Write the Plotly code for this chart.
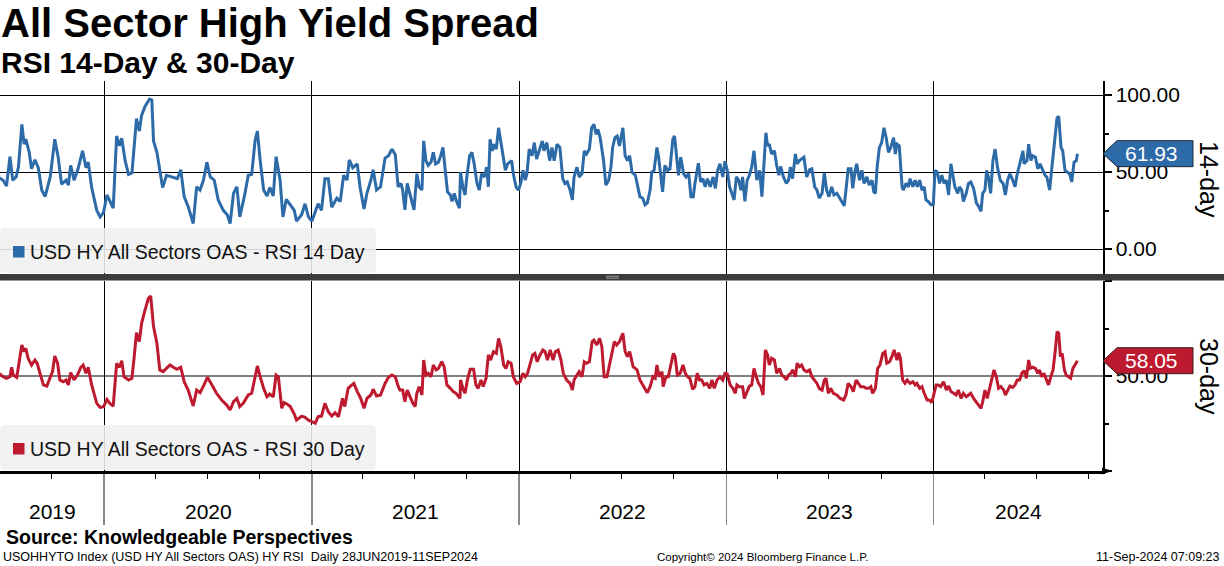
import pandas as pd
import plotly.graph_objects as go

# ---------------- data ----------------
START = "2019-06-28"          # first observation
END = "2024-09-11"            # last observation

# RSI 14-day: days since START, value
rsi14_days = [0, 9, 15, 21, 26, 32, 36, 42, 46, 49, 55, 59, 65, 71, 77, 83, 92, 100, 106, 112, 120, 124, 128, 134, 141, 149, 155, 159, 165, 174, 180, 186, 192, 197, 203, 209, 214, 218, 224, 230, 236, 241, 244, 249, 253, 259, 267, 271, 274, 280, 285, 290, 297, 309, 316, 322, 328, 335, 344, 350, 356, 362, 368, 374, 381, 388, 397, 404, 409, 415, 421, 426, 434, 441, 447, 453, 457, 462, 468, 474, 479, 485, 490, 497, 502, 508, 515, 522, 526, 535, 541, 547, 553, 559, 564, 570, 576, 582, 588, 597, 603, 609, 615, 619, 625, 633, 638, 645, 650, 657, 661, 667, 674, 682, 688, 694, 700, 705,
              710, 713, 717, 721, 725, 729, 733, 738, 742, 747, 750, 754, 758, 763, 767, 771, 776, 780, 784, 788, 792, 797, 800, 804, 807, 813, 815, 819, 823, 826, 831, 835, 839, 844, 848, 852, 857, 861, 864, 867, 871, 874, 878, 882, 886, 891, 894, 898, 901, 905, 908, 913, 917, 921, 925, 929, 932, 936, 941, 945, 949, 954, 959, 962, 967, 972, 976, 980, 985, 990, 995, 999, 1003, 1008, 1012, 1015, 1020, 1024, 1029, 1033, 1037, 1042, 1046, 1050, 1054, 1057, 1061, 1067, 1071, 1076, 1080, 1083, 1087, 1091, 1095, 1101, 1105, 1109, 1113, 1117, 1123,
              1131, 1136, 1140, 1144, 1149, 1152, 1156, 1161, 1164, 1168, 1171, 1175, 1180, 1184, 1189, 1192, 1196, 1199, 1203, 1208, 1212, 1217, 1221, 1225, 1228, 1234, 1238, 1242, 1246, 1250, 1255, 1260, 1264, 1268, 1272, 1277, 1281, 1285, 1289, 1293, 1297, 1301, 1305, 1309, 1312, 1316, 1320, 1324, 1328, 1332, 1337, 1342, 1346, 1350, 1353, 1356, 1359, 1363, 1368, 1372, 1376, 1379, 1384, 1389, 1393, 1396, 1400, 1405, 1408, 1412, 1416, 1420, 1425, 1430, 1434, 1439, 1443, 1447, 1452, 1456, 1460, 1464, 1469, 1473, 1478, 1483, 1487, 1491, 1496, 1498, 1503, 1506, 1510, 1513, 1518, 1522, 1526, 1531, 1535, 1540, 1543, 1546, 1549, 1553,
              1557, 1561, 1565, 1569, 1573, 1578, 1581, 1584, 1588, 1593, 1595, 1600, 1604, 1607, 1612, 1616, 1620, 1624, 1628, 1632, 1635, 1639, 1644, 1648, 1651, 1655, 1659, 1663, 1667, 1671, 1675, 1679, 1682, 1686, 1691, 1694, 1698, 1701, 1706, 1710, 1714, 1719, 1724, 1728, 1732, 1735, 1739, 1742, 1745, 1749, 1753, 1757, 1761, 1766, 1771, 1775, 1779, 1783, 1788, 1792, 1796, 1801, 1806, 1808, 1813, 1816, 1820, 1823, 1828, 1832, 1836, 1841, 1845, 1848, 1853, 1857, 1861, 1866, 1869, 1873, 1876, 1880, 1884, 1888, 1892, 1896, 1900, 1902]
rsi14_vals = [46.8, 44.7, 40.9, 60.0, 44.7, 46.8, 53.2, 80.9, 68.1, 71.3, 62.8, 52.1, 57.9, 52.8, 38.3, 34.0, 46.8, 71.3, 59.6, 42.1, 44.7, 41.5, 54.3, 44.7, 52.1, 63.8, 52.8, 56.4, 40.0, 25.1, 20.9, 23.8, 35.1, 31.5, 26.6, 73.4, 67.0, 71.9, 57.4, 48.5, 49.4, 71.3, 84.7, 76.6, 86.8, 92.6, 97.4, 96.8, 70.2, 62.8, 51.1, 40.0, 47.9, 46.8, 45.7, 51.5, 34.0, 27.7, 16.6, 40.4, 38.3, 44.7, 56.4, 46.8, 44.7, 31.9, 25.1, 22.3, 16.6, 36.2, 40.4, 20.9, 34.0, 47.9, 48.5, 70.6, 76.6, 57.4, 38.3, 34.5, 40.0, 34.5, 60.0, 44.7, 20.9, 32.3, 28.7, 25.1, 18.1, 22.3, 29.4, 20.9, 18.1, 23.8, 29.4, 25.1, 45.7, 45.7, 27.2, 33.0, 30.9, 47.9, 44.7, 57.9, 52.8, 55.3, 40.0, 26.0, 36.2, 44.7, 51.5, 38.3, 40.4, 59.1, 60.6, 64.9, 61.3, 40.4,
              42.6, 38.3, 25.5, 42.6, 36.2, 29.8, 25.5, 48.9, 40.4, 38.3, 70.2, 57.4, 54.3, 56.4, 62.8, 55.3, 56.4, 60.6, 66.0, 51.1, 37.2, 35.1, 30.9, 36.2, 31.9, 26.6, 50.0, 40.4, 35.1, 46.8, 60.6, 62.8, 55.3, 42.6, 38.3, 48.9, 46.8, 53.2, 40.4, 71.3, 63.8, 68.1, 64.9, 78.7, 69.1, 57.4, 51.1, 55.3, 56.4, 57.4, 48.9, 40.0, 38.3, 42.6, 51.1, 44.7, 48.9, 64.9, 60.6, 69.1, 58.5, 64.9, 70.2, 63.8, 69.1, 57.4, 66.0, 57.4, 68.1, 66.0, 45.7, 42.6, 43.6, 38.3, 31.9, 46.8, 53.2, 46.8, 48.9, 63.8, 61.7, 64.9, 78.7, 80.9, 74.5, 77.7, 72.3, 57.4, 41.5, 44.7, 53.2, 66.0, 72.3, 73.4, 67.0, 78.7, 60.6, 57.4, 60.6, 50.0, 47.9,
              34.0, 33.0, 28.7, 29.8, 38.3, 50.0, 51.1, 66.0, 59.6, 45.7, 37.2, 54.3, 51.1, 52.1, 71.3, 73.4, 59.6, 47.9, 59.6, 48.9, 46.8, 48.9, 34.0, 34.0, 42.6, 55.7, 43.6, 45.7, 40.4, 45.7, 40.4, 46.8, 39.4, 51.1, 55.3, 46.8, 57.0, 51.1, 40.4, 36.2, 31.9, 46.8, 44.7, 38.3, 46.8, 30.9, 44.7, 47.9, 53.2, 63.8, 44.7, 51.1, 34.0, 57.4, 75.5, 67.0, 68.1, 61.7, 63.8, 54.3, 47.9, 53.6, 46.8, 42.6, 44.7, 53.2, 45.7, 61.7, 55.3, 57.4, 58.5, 59.6, 46.8, 51.5, 52.1, 40.4, 38.3, 33.0, 36.2, 49.4, 38.3, 34.0, 40.4, 35.1, 36.2, 33.0, 30.9, 28.1, 44.7, 52.1, 52.1, 39.4, 50.0, 55.3, 44.7, 51.1, 42.6, 46.8, 41.5, 44.7, 37.2, 36.2, 53.2, 66.0,
              69.1, 78.7, 72.3, 62.8, 66.0, 72.3, 61.7, 68.1, 67.0, 40.4, 38.3, 42.6, 40.4, 45.7, 40.4, 44.7, 40.4, 44.7, 38.3, 40.4, 31.9, 30.9, 28.7, 28.7, 51.1, 50.0, 42.6, 47.9, 42.6, 44.7, 35.1, 55.3, 48.9, 40.4, 36.2, 40.4, 38.3, 30.9, 36.2, 42.6, 43.6, 39.4, 29.8, 27.7, 24.5, 36.2, 38.3, 51.1, 46.8, 36.2, 57.4, 64.9, 53.2, 44.7, 42.6, 35.1, 44.7, 48.9, 44.7, 40.4, 48.9, 56.4, 63.8, 55.3, 57.4, 68.1, 57.4, 60.6, 59.6, 52.1, 55.3, 51.1, 47.9, 46.8, 38.3, 53.2, 66.0, 85.1, 86.2, 66.0, 63.8, 51.1, 50.0, 48.9, 43.6, 56.4, 57.4, 61.93]

# RSI 30-day: days since START, value
rsi30_days = [0, 9, 15, 21, 24, 27, 33, 38, 42, 46, 49, 53, 59, 65, 69, 74, 80, 86, 92, 96, 100, 105, 109, 115, 120, 124, 128, 134, 140, 146, 150, 155, 159, 165, 174, 180, 186, 192, 197, 203, 209, 214, 218, 222, 230, 236, 240, 244, 249, 253, 259, 265, 269, 274, 280, 285, 291, 297, 303, 309, 315, 322, 328, 335, 344, 350, 356, 363, 369, 377, 385, 394, 403, 409, 415, 421, 426, 432, 441, 447, 453, 457, 462, 468, 474, 479, 485, 490, 494, 500, 504, 509, 515, 522, 526, 535, 541, 547, 553, 559, 564, 570, 576, 582, 588, 594, 600, 607, 611, 617, 621, 627, 633, 639, 645, 650, 657, 661, 667, 674, 682, 688, 694, 700, 705,
              708, 713, 717, 721, 726, 731, 735, 738, 742, 747, 750, 754, 758, 763, 767, 772, 776, 782, 786, 791, 797, 802, 807, 814, 815, 820, 823, 827, 832, 838, 842, 846, 851, 855, 860, 864, 868, 873, 878, 882, 886, 891, 895, 899, 904, 908, 914, 920, 925, 929, 933, 938, 942, 946, 950, 955, 960, 964, 968, 973, 978, 982, 987, 992, 996, 1002, 1008, 1012, 1015, 1020, 1024, 1029, 1033, 1037, 1042, 1047, 1050, 1055, 1060, 1064, 1068, 1073, 1077, 1082, 1086, 1090, 1095, 1101, 1105, 1109, 1113, 1119, 1126, 1131, 1136, 1140, 1144, 1149, 1154, 1158, 1161, 1165, 1170, 1172, 1177, 1181, 1186, 1190, 1193, 1197, 1202, 1207, 1211, 1215, 1219, 1224, 1228, 1232, 1236, 1240, 1244, 1249, 1254, 1258, 1262, 1267, 1272, 1277, 1281, 1285, 1290, 1295, 1299, 1302, 1306,
              1312, 1315, 1319, 1324, 1328, 1332, 1336, 1340, 1344, 1348, 1352, 1356, 1359, 1363, 1368, 1372, 1377, 1381, 1385, 1389, 1393, 1397, 1400, 1405, 1408, 1412, 1416, 1420, 1425, 1430, 1434, 1438, 1443, 1447, 1452, 1456, 1459, 1463, 1467, 1472, 1478, 1484, 1490, 1494, 1498, 1503, 1507, 1512, 1516, 1520, 1525, 1530, 1534, 1538, 1541, 1546, 1550, 1554, 1559, 1563, 1566, 1571, 1575, 1579, 1584, 1587, 1590, 1594, 1598, 1602, 1607, 1612, 1616, 1619, 1624, 1628, 1632, 1637, 1641, 1645, 1648, 1653, 1657, 1661, 1666, 1671, 1675, 1679, 1684, 1688, 1692, 1697, 1701, 1706, 1710, 1714, 1719, 1724, 1728, 1732, 1735, 1739, 1743, 1747, 1751, 1755, 1759, 1763, 1767, 1772, 1775, 1779, 1783, 1788, 1792, 1796, 1800, 1804, 1808, 1812, 1816, 1819, 1823, 1828, 1832, 1835, 1839, 1843, 1847, 1851, 1855, 1859, 1863, 1866, 1869, 1872, 1875, 1879, 1882, 1886, 1890, 1894, 1898, 1902]
rsi30_vals = [51.8, 49.6, 48.8, 49.6, 54.6, 50.5, 49.3, 58.4, 66.3, 62.8, 64.6, 59.3, 55.8, 58.4, 56.7, 51.4, 45.3, 44.7, 48.8, 52.3, 60.5, 56.7, 47.9, 47.0, 47.9, 45.3, 51.8, 47.9, 50.5, 54.6, 55.8, 51.4, 54.6, 45.3, 35.6, 33.5, 33.9, 37.7, 35.6, 34.2, 56.7, 54.6, 58.1, 49.6, 47.9, 48.8, 60.2, 72.8, 68.1, 77.7, 84.7, 90.9, 92.1, 76.0, 67.2, 53.2, 52.3, 54.0, 55.8, 54.6, 53.5, 54.6, 47.0, 42.6, 34.2, 42.6, 41.2, 45.3, 49.3, 45.3, 40.9, 37.4, 34.7, 32.1, 36.5, 38.2, 33.9, 35.6, 40.0, 40.9, 49.6, 55.3, 49.6, 43.5, 39.1, 40.5, 39.1, 50.5, 49.6, 33.0, 36.0, 35.3, 33.9, 30.0, 26.8, 28.9, 28.2, 26.8, 26.0, 25.1, 28.6, 28.9, 35.6, 31.2, 28.9, 30.7, 28.6, 38.2, 33.9, 43.5, 44.7, 46.1, 41.8, 38.2, 33.0, 38.2, 40.0, 43.0, 39.5, 40.0, 46.1, 49.3, 50.5, 49.6, 44.7,
              42.6, 42.6, 36.5, 42.6, 39.1, 35.6, 33.9, 40.9, 44.4, 40.0, 58.4, 50.5, 51.4, 49.6, 55.8, 53.2, 54.0, 57.5, 54.9, 45.3, 43.5, 41.8, 40.9, 38.2, 47.9, 42.6, 40.9, 47.9, 53.5, 53.5, 45.3, 43.5, 47.9, 44.4, 48.8, 61.1, 58.4, 62.8, 61.9, 69.8, 65.4, 55.8, 54.0, 57.5, 56.7, 49.6, 46.1, 47.0, 51.4, 49.6, 51.4, 57.5, 61.1, 61.9, 57.5, 61.1, 63.7, 62.8, 58.4, 63.7, 58.4, 62.8, 63.7, 58.4, 51.4, 47.9, 46.1, 42.6, 47.9, 50.5, 52.3, 49.6, 57.5, 56.7, 57.5, 68.1, 68.9, 66.3, 69.8, 65.4, 49.6, 49.6, 54.9, 61.1, 68.1, 66.3, 68.1, 72.5, 62.8, 60.2, 62.8, 54.9, 53.2, 47.9, 45.3, 42.6, 41.2, 44.4, 49.6, 48.8, 55.8, 49.6, 52.3, 44.4, 49.6, 49.6, 55.8, 61.9, 60.2, 50.5, 51.4, 55.8, 51.4, 49.6, 48.8, 43.0, 44.4, 51.4, 47.9, 47.9, 45.3, 46.1, 43.5, 47.9, 43.5, 47.9, 49.6, 47.9, 51.4, 51.1, 45.3, 43.5, 40.9, 45.3, 44.4,
              44.4, 38.2, 40.9, 44.7, 45.3, 54.0, 49.6, 46.1, 44.4, 40.0, 63.7, 61.1, 55.8, 59.3, 58.4, 51.4, 54.0, 50.5, 49.6, 47.9, 50.5, 51.4, 53.2, 49.6, 56.7, 54.9, 55.8, 53.2, 52.3, 53.2, 49.6, 47.9, 46.1, 43.5, 42.6, 47.9, 48.8, 40.9, 43.5, 40.9, 40.0, 38.2, 37.4, 40.0, 46.1, 44.4, 41.8, 47.9, 46.1, 44.4, 44.4, 43.5, 43.5, 44.4, 40.9, 43.5, 54.0, 55.8, 61.9, 62.8, 56.7, 57.5, 60.2, 63.7, 58.4, 62.3, 59.3, 47.9, 46.1, 47.9, 46.1, 47.0, 45.3, 46.1, 43.5, 44.4, 40.9, 37.4, 37.4, 36.0, 39.1, 45.3, 45.3, 44.4, 47.0, 42.6, 44.7, 41.8, 40.9, 40.0, 42.6, 38.2, 40.9, 39.1, 40.0, 40.9, 38.2, 36.0, 34.7, 33.0, 36.5, 42.6, 38.2, 43.5, 49.6, 53.2, 49.6, 43.5, 44.4, 42.6, 40.0, 42.6, 44.7, 44.0, 45.3, 47.9, 47.9, 51.4, 52.8, 48.8, 58.4, 54.0, 54.6, 54.0, 51.4, 53.2, 49.6, 51.4, 47.9, 45.3, 49.6, 53.2, 63.7, 73.3, 72.5, 60.2, 61.9, 53.2, 50.5, 49.6, 48.8, 54.0, 55.8, 58.05]

years = [2019, 2020, 2021, 2022, 2023, 2024]
top_ticks = [0, 50, 100]
top_tick_text = ["0.00", "50.00", "100.00"]
bot_ticks = [0, 50, 100]
bot_tick_text = ["", "50.00", ""]

BLUE = "#2c6aa8"
RED = "#be1a2f"
FONT = "Liberation Sans"

# ---------------- geometry helpers ----------------
W, H = 1224, 566
PW = 1103.0          # right edge of plot area (px)


def px(x):
    return x / PW


def py(y):
    return 1 - y / H


def rounded_rect(x0, y0, x1, y1, r=5):
    """Rounded rectangle path in paper coordinates, from pixel box (top-left origin)."""
    rx, ry = r / PW, r / H
    X0, X1, Yt, Yb = px(x0), px(x1), py(y0), py(y1)
    return (f"M{X0 + rx},{Yt} L{X1 - rx},{Yt} Q{X1},{Yt} {X1},{Yt - ry} "
            f"L{X1},{Yb + ry} Q{X1},{Yb} {X1 - rx},{Yb} L{X0 + rx},{Yb} "
            f"Q{X0},{Yb} {X0},{Yb + ry} L{X0},{Yt - ry} Q{X0},{Yt} {X0 + rx},{Yt} Z")


t0 = pd.Timestamp(START)
x14 = t0 + pd.to_timedelta(rsi14_days, unit="D")
x30 = t0 + pd.to_timedelta(rsi30_days, unit="D")
xr0 = pd.Timestamp("2019-07-01 12:00")
xr1 = pd.Timestamp("2024-10-26")

fig = go.Figure()
fig.add_trace(go.Scatter(x=x14, y=rsi14_vals, mode="lines", xaxis="x", yaxis="y",
                         line=dict(color=BLUE, width=3), showlegend=False, hoverinfo="skip"))
fig.add_trace(go.Scatter(x=x30, y=rsi30_vals, mode="lines", xaxis="x2", yaxis="y2",
                         line=dict(color=RED, width=3), showlegend=False, hoverinfo="skip"))

common_x = dict(range=[xr0, xr1], type="date", dtick="M12", tick0="2020-01-01",
                showgrid=True, gridcolor="black", gridwidth=1, zeroline=False,
                showticklabels=False, fixedrange=True)

fig.update_layout(
    width=W, height=H, autosize=False,
    margin=dict(l=0, r=W - PW, t=0, b=0, pad=0),
    paper_bgcolor="white", plot_bgcolor="white",
    font=dict(family=FONT, color="black"),
    xaxis=dict(domain=[0, 1], anchor="y", ticks="", showline=False, **common_x),
    xaxis2=dict(domain=[0, 1], anchor="y2", matches="x", showline=True, linecolor="black",
                linewidth=2.5, ticks="outside", ticklen=51, tickwidth=1.3, tickcolor="#8a8a8a",
                minor=dict(dtick="M3", tick0="2020-01-01", ticks="outside", ticklen=5,
                           tickwidth=1, tickcolor="black", showgrid=False),
                **common_x),
    yaxis=dict(domain=[py(274), py(81)], anchor="x", side="right", range=[-16.2, 109.1],
               tickvals=top_ticks, ticktext=top_tick_text, showgrid=True, gridcolor="black",
               gridwidth=1, zeroline=False, showline=True, linecolor="black", linewidth=1.5,
               ticks="outside", ticklen=7, tickwidth=2, tickcolor="black",
               tickfont=dict(size=21, family=FONT, color="black"),
               minor=dict(tickvals=[25, 75], ticks="outside", ticklen=4, tickcolor="black"),
               fixedrange=True),
    yaxis2=dict(domain=[py(471), py(281)], anchor="x2", side="right", range=[0, 100],
                tickvals=bot_ticks, ticktext=bot_tick_text, showgrid=False, zeroline=False,
                showline=True, linecolor="black", linewidth=1.5,
                ticks="outside", ticklen=7, tickwidth=2, tickcolor="black",
                tickfont=dict(size=21, family=FONT, color="black"),
                minor=dict(tickvals=[25, 75], ticks="outside", ticklen=4, tickcolor="black"),
                fixedrange=True),
)

shapes = []
# 50 line in bottom panel
shapes.append(dict(type="line", xref="paper", yref="y2", x0=0, x1=1, y0=50, y1=50,
                   line=dict(color="black", width=1), layer="below"))
# panel separator bar
shapes.append(dict(type="rect", xref="paper", yref="paper", x0=0, x1=W / PW,
                   y0=py(280.5), y1=py(274), fillcolor="#3b3b3b", line=dict(width=0), layer="above"))
for yy in (276.3, 278.2):
    shapes.append(dict(type="line", xref="paper", yref="paper", x0=px(606), x1=px(619),
                       y0=py(yy), y1=py(yy), line=dict(color="#9a9a9a", width=1), layer="above"))
# arrow at right end of the time axis
shapes.append(dict(type="path", xref="paper", yref="paper",
                   path=f"M{px(1102)},{py(467.5)} L{px(1112)},{py(471)} L{px(1102)},{py(474.5)} Z",
                   fillcolor="black", line=dict(width=0), layer="above"))
# legend boxes
for (ya, yb, col) in ((228, 273, BLUE), (425, 470, RED)):
    shapes.append(dict(type="path", xref="paper", yref="paper", path=rounded_rect(0, ya, 376, yb),
                       fillcolor="rgba(240,240,240,0.88)", line=dict(width=0), layer="above"))
    yc = (ya + yb) / 2 + 1
    shapes.append(dict(type="rect", xref="paper", yref="paper", x0=px(13), x1=px(24.5),
                       y0=py(yc + 6), y1=py(yc - 5.5), fillcolor=col,
                       line=dict(width=0), layer="above"))
# last-value tags
tag_path = "M0,0 L14,13 L90,13 L90,-13 L14,-13 Z"
shapes.append(dict(type="path", xref="paper", yref="y", xsizemode="pixel", ysizemode="pixel",
                   xanchor=1, yanchor=rsi14_vals[-1], path=tag_path, fillcolor=BLUE,
                   line=dict(color="#1d2a3a", width=1), layer="above"))
shapes.append(dict(type="path", xref="paper", yref="y2", xsizemode="pixel", ysizemode="pixel",
                   xanchor=1, yanchor=rsi30_vals[-1], path=tag_path, fillcolor=RED,
                   line=dict(color="#3a1a1a", width=1), layer="above"))

ann = []
# titles
ann.append(dict(text="<b>All Sector High Yield Spread</b>", x=px(-1), y=py(23), xref="paper", yref="paper",
                xanchor="left", yanchor="middle", showarrow=False, font=dict(size=40, family=FONT, color="black")))
ann.append(dict(text="<b>RSI 14-Day &amp; 30-Day</b>", x=px(-1), y=py(62), xref="paper", yref="paper",
                xanchor="left", yanchor="middle", showarrow=False, font=dict(size=30, family=FONT, color="black")))
# year labels centred in the visible part of each year
for yr in years:
    a = max(pd.Timestamp(f"{yr}-01-01"), xr0)
    b = min(pd.Timestamp(f"{yr + 1}-01-01"), xr1)
    mid = a + (b - a) / 2
    ann.append(dict(text=str(yr), x=mid, y=py(511), xref="x2", yref="paper", xanchor="center",
                    yanchor="middle", showarrow=False, font=dict(size=21, family=FONT, color="black")))
# legends
ann.append(dict(text="USD HY All Sectors OAS - RSI 14 Day", x=px(28), y=py(252), xref="paper", yref="paper",
                xanchor="left", yanchor="middle", showarrow=False, font=dict(size=19.5, family=FONT, color="#111111")))
ann.append(dict(text="USD HY All Sectors OAS - RSI 30 Day", x=px(28), y=py(449), xref="paper", yref="paper",
                xanchor="left", yanchor="middle", showarrow=False, font=dict(size=19.5, family=FONT, color="#111111")))
# tag texts
ann.append(dict(text=f"{rsi14_vals[-1]:.2f}", x=px(1151), y=rsi14_vals[-1], xref="paper", yref="y",
                xanchor="center", yanchor="middle", showarrow=False, font=dict(size=21, family=FONT, color="white")))
ann.append(dict(text=f"{rsi30_vals[-1]:.2f}", x=px(1151), y=rsi30_vals[-1], xref="paper", yref="y2",
                xanchor="center", yanchor="middle", showarrow=False, font=dict(size=21, family=FONT, color="white")))
# panel names
ann.append(dict(text="14-day", x=px(1209), y=py(179), xref="paper", yref="paper", textangle=90,
                xanchor="center", yanchor="middle", showarrow=False, font=dict(size=25, family=FONT, color="black")))
ann.append(dict(text="30-day", x=px(1209), y=py(376), xref="paper", yref="paper", textangle=90,
                xanchor="center", yanchor="middle", showarrow=False, font=dict(size=25, family=FONT, color="black")))
# source & footer
ann.append(dict(text="<b>Source: Knowledgeable Perspectives</b>", x=px(4), y=py(537), xref="paper", yref="paper",
                xanchor="left", yanchor="middle", showarrow=False, font=dict(size=19.5, family=FONT, color="black")))
ann.append(dict(text="USOHHYTO Index (USD HY All Sectors OAS) HY RSI  Daily 28JUN2019-11SEP2024",
                x=px(1), y=py(557), xref="paper", yref="paper", xanchor="left", yanchor="middle",
                showarrow=False, font=dict(size=12.5, family=FONT, color="black")))
ann.append(dict(text="Copyright\u00a9 2024 Bloomberg Finance L.P.", x=px(763), y=py(557), xref="paper", yref="paper",
                xanchor="center", yanchor="middle", showarrow=False, font=dict(size=11.5, family=FONT, color="black")))
ann.append(dict(text="11-Sep-2024 07:09:23", x=px(1222), y=py(557), xref="paper", yref="paper",
                xanchor="right", yanchor="middle", showarrow=False, font=dict(size=12.5, family=FONT, color="black")))

fig.update_layout(shapes=shapes, annotations=ann)
fig.write_html("out.html", config={"displayModeBar": False, "staticPlot": True})

# remove the browser's default page margin so the figure sits at the window's top-left corner
with open("out.html", "r", encoding="utf-8") as fh:
    page = fh.read()
page = page.replace("<head>", "<head><style>html,body{margin:0;padding:0;overflow:hidden;}</style>", 1)
with open("out.html", "w", encoding="utf-8") as fh:
    fh.write(page)
